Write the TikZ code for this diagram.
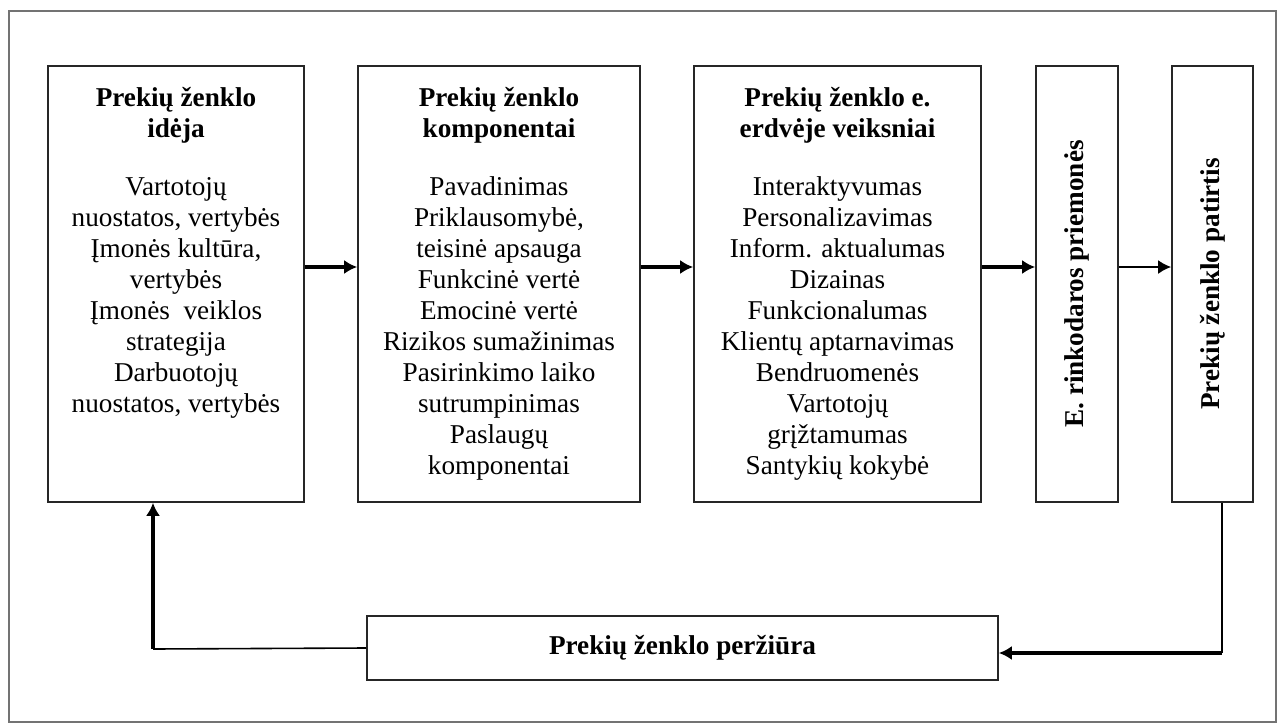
\documentclass[tikz,border=0pt]{standalone}
\usepackage{fontspec}
\setmainfont{Liberation Serif}
\usetikzlibrary{arrows.meta,positioning}

\begin{document}
\begin{tikzpicture}[x=0.5pt,y=-0.5pt,
    blokas/.style={draw=black!85, line width=0.8pt, inner sep=0pt},
    tekstas/.style={align=center, inner sep=0pt, font=\fontsize{13.6}{15.5}\selectfont},
    stulpas/.style={rotate=90, inner sep=0pt, font=\bfseries\fontsize{13.6}{15.5}\selectfont},
    rodykle/.style={-{Latex[length=6.5pt,width=7pt]}, line width=1.6pt}]
    \useasboundingbox (0,0) rectangle (1282,724);
    \draw[black!55, line width=0.8pt] (9,11) rectangle (1276,722);

    \node[blokas, minimum width=128pt, minimum height=218pt] (idea) at (176,284) {};
    \node[blokas, minimum width=141pt, minimum height=218pt] (komp) at (499,284) {};
    \node[blokas, minimum width=143.5pt, minimum height=218pt] (veiks) at (837.5,284) {};
    \node[blokas, minimum width=41pt, minimum height=218pt] (rink) at (1077,284) {};
    \node[blokas, minimum width=40.5pt, minimum height=218pt] (patirtis) at (1212.5,284) {};
    \node[blokas, minimum width=315.5pt, minimum height=32pt] (perziura) at (682.5,648) {};

    \node[tekstas, below=11pt of idea.north] (ideatxt) {\textbf{Prekių ženklo}\\\textbf{idėja}\\[13.5pt]
        Vartotojų\\nuostatos, vertybės\\Įmonės kultūra,\\vertybės\\Įmonės\ \ veiklos\\strategija\\Darbuotojų\\nuostatos, vertybės};
    \node[tekstas, below=11pt of komp.north] (komptxt) {\textbf{Prekių ženklo}\\\textbf{komponentai}\\[13.5pt]
        Pavadinimas\\Priklausomybė,\\teisinė apsauga\\Funkcinė vertė\\Emocinė vertė\\Rizikos sumažinimas\\Pasirinkimo laiko\\sutrumpinimas\\Paslaugų\\komponentai};
    \node[tekstas, below=11pt of veiks.north] (veikstxt) {\textbf{Prekių ženklo e.}\\\textbf{erdvėje veiksniai}\\[13.5pt]
        Interaktyvumas\\Personalizavimas\\Inform. aktualumas\\Dizainas\\Funkcionalumas\\Klientų aptarnavimas\\Bendruomenės\\Vartotojų\\grįžtamumas\\Santykių kokybė};
    \node[stulpas] (rinktxt) at (rink) {E. rinkodaros priemonės};
    \node[stulpas] (patirtistxt) at (patirtis) {Prekių ženklo patirtis};
    \node[tekstas, font=\bfseries\fontsize{13.6}{15.5}\selectfont] (perziuratxt) at (perziura) {Prekių ženklo peržiūra};

    \draw[rodykle] ([yshift=8.5pt]idea.east) -- ([yshift=8.5pt]komp.west);
    \draw[rodykle] ([yshift=8.5pt]komp.east) -- ([yshift=8.5pt]veiks.west);
    \draw[rodykle] ([yshift=8.5pt]veiks.east) -- ([yshift=8.5pt]rink.west);
    \draw[rodykle, line width=1.1pt] ([yshift=8.5pt]rink.east) -- ([yshift=8.5pt]patirtis.west);

    \coordinate (kampas1) at (153,649);
    \coordinate (kampas2) at (1222,653);
    \draw[line width=0.8pt] (perziura.west) -- (kampas1);
    \draw[rodykle] (kampas1) -- (kampas1 |- idea.south);
    \draw[line width=0.8pt] (patirtis.south -| kampas2) -- (kampas2);
    \draw[rodykle, line width=2pt] (kampas2) -- (perziura.east |- kampas2);
\end{tikzpicture}
\end{document}
